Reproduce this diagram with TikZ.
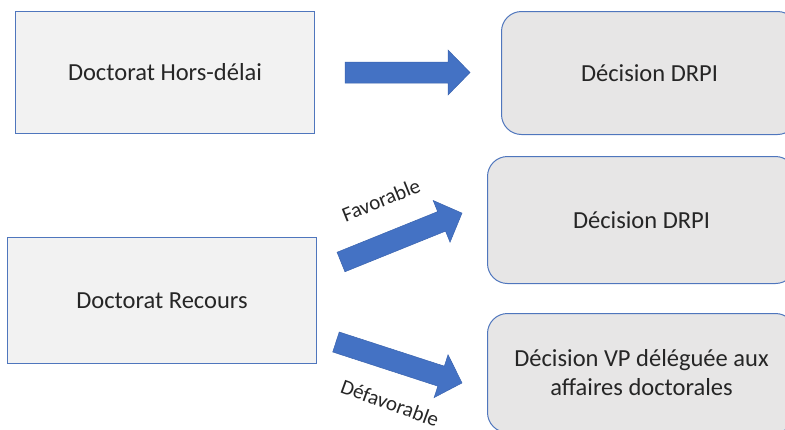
\documentclass[tikz,border=0pt]{standalone}
\usepackage{fontspec}
\setmainfont{Carlito}
\usetikzlibrary{positioning}
\definecolor{boxblue}{HTML}{4F76BD}
\definecolor{arrowblue}{HTML}{4472C4}
\definecolor{arrowedge}{HTML}{3A63AE}
\definecolor{lightfill}{HTML}{F2F2F2}
\definecolor{darkfill}{HTML}{E7E6E6}
\definecolor{txt}{HTML}{262626}
\tikzset{
  srcbox/.style={draw=boxblue, line width=1pt, fill=lightfill, anchor=north west, inner sep=0pt,
    font=\fontsize{24.5}{29}\selectfont, text=txt, align=center},
  decbox/.style={draw=boxblue, line width=1pt, fill=darkfill, rounded corners=20pt, anchor=north west,
    inner sep=0pt, font=\fontsize{24.5}{29}\selectfont, text=txt, align=center},
  blockarrow/.style={fill=arrowblue, draw=arrowedge, line width=0.5pt, line join=miter},
  lbl/.style={font=\fontsize{21}{24}\selectfont, text=txt, inner sep=0pt}
}
\newcommand{\myblockarrow}[4]{% tail-x, tail-y, angle, length
  \begin{scope}[shift={(#1,#2)}, rotate=#3]
    \path[blockarrow] (0,-10.5) -- ({#4-22},-10.5) -- ({#4-22},-22.5) -- (#4,0)
      -- ({#4-22},22.5) -- ({#4-22},10.5) -- (0,10.5) -- cycle;
  \end{scope}}
\begin{document}
\begin{tikzpicture}[x=1pt, y=-1pt]
\useasboundingbox (0,0) rectangle (785,429);
\clip (0,0) rectangle (785,429);
% source boxes
\node[srcbox, minimum width=299pt, minimum height=122pt] (hd) at (15,11) {Doctorat Hors-délai};
\node[srcbox, minimum width=309pt, minimum height=126pt] (rec) at (7,237) {Doctorat Recours};
% decision boxes
\node[decbox, minimum width=296pt, minimum height=123pt] (d1) at (501,11) {Décision DRPI};
\node[decbox, minimum width=308pt, minimum height=127pt] (d2) at (487,156) {Décision DRPI};
\node[decbox, minimum width=308pt, minimum height=119pt] (d3) at (487,313) {Décision VP déléguée aux\\affaires doctorales};
% arrows
\myblockarrow{345}{72.5}{0}{125}
\myblockarrow{341}{262}{22}{130.5}
\myblockarrow{336}{342}{-18}{132.5}
% labels
\node[lbl, rotate=22] (fav) at (381,200) {Favorable};
\node[lbl, rotate=-20] (defav) at (390,403) {Défavorable};
\end{tikzpicture}
\end{document}
